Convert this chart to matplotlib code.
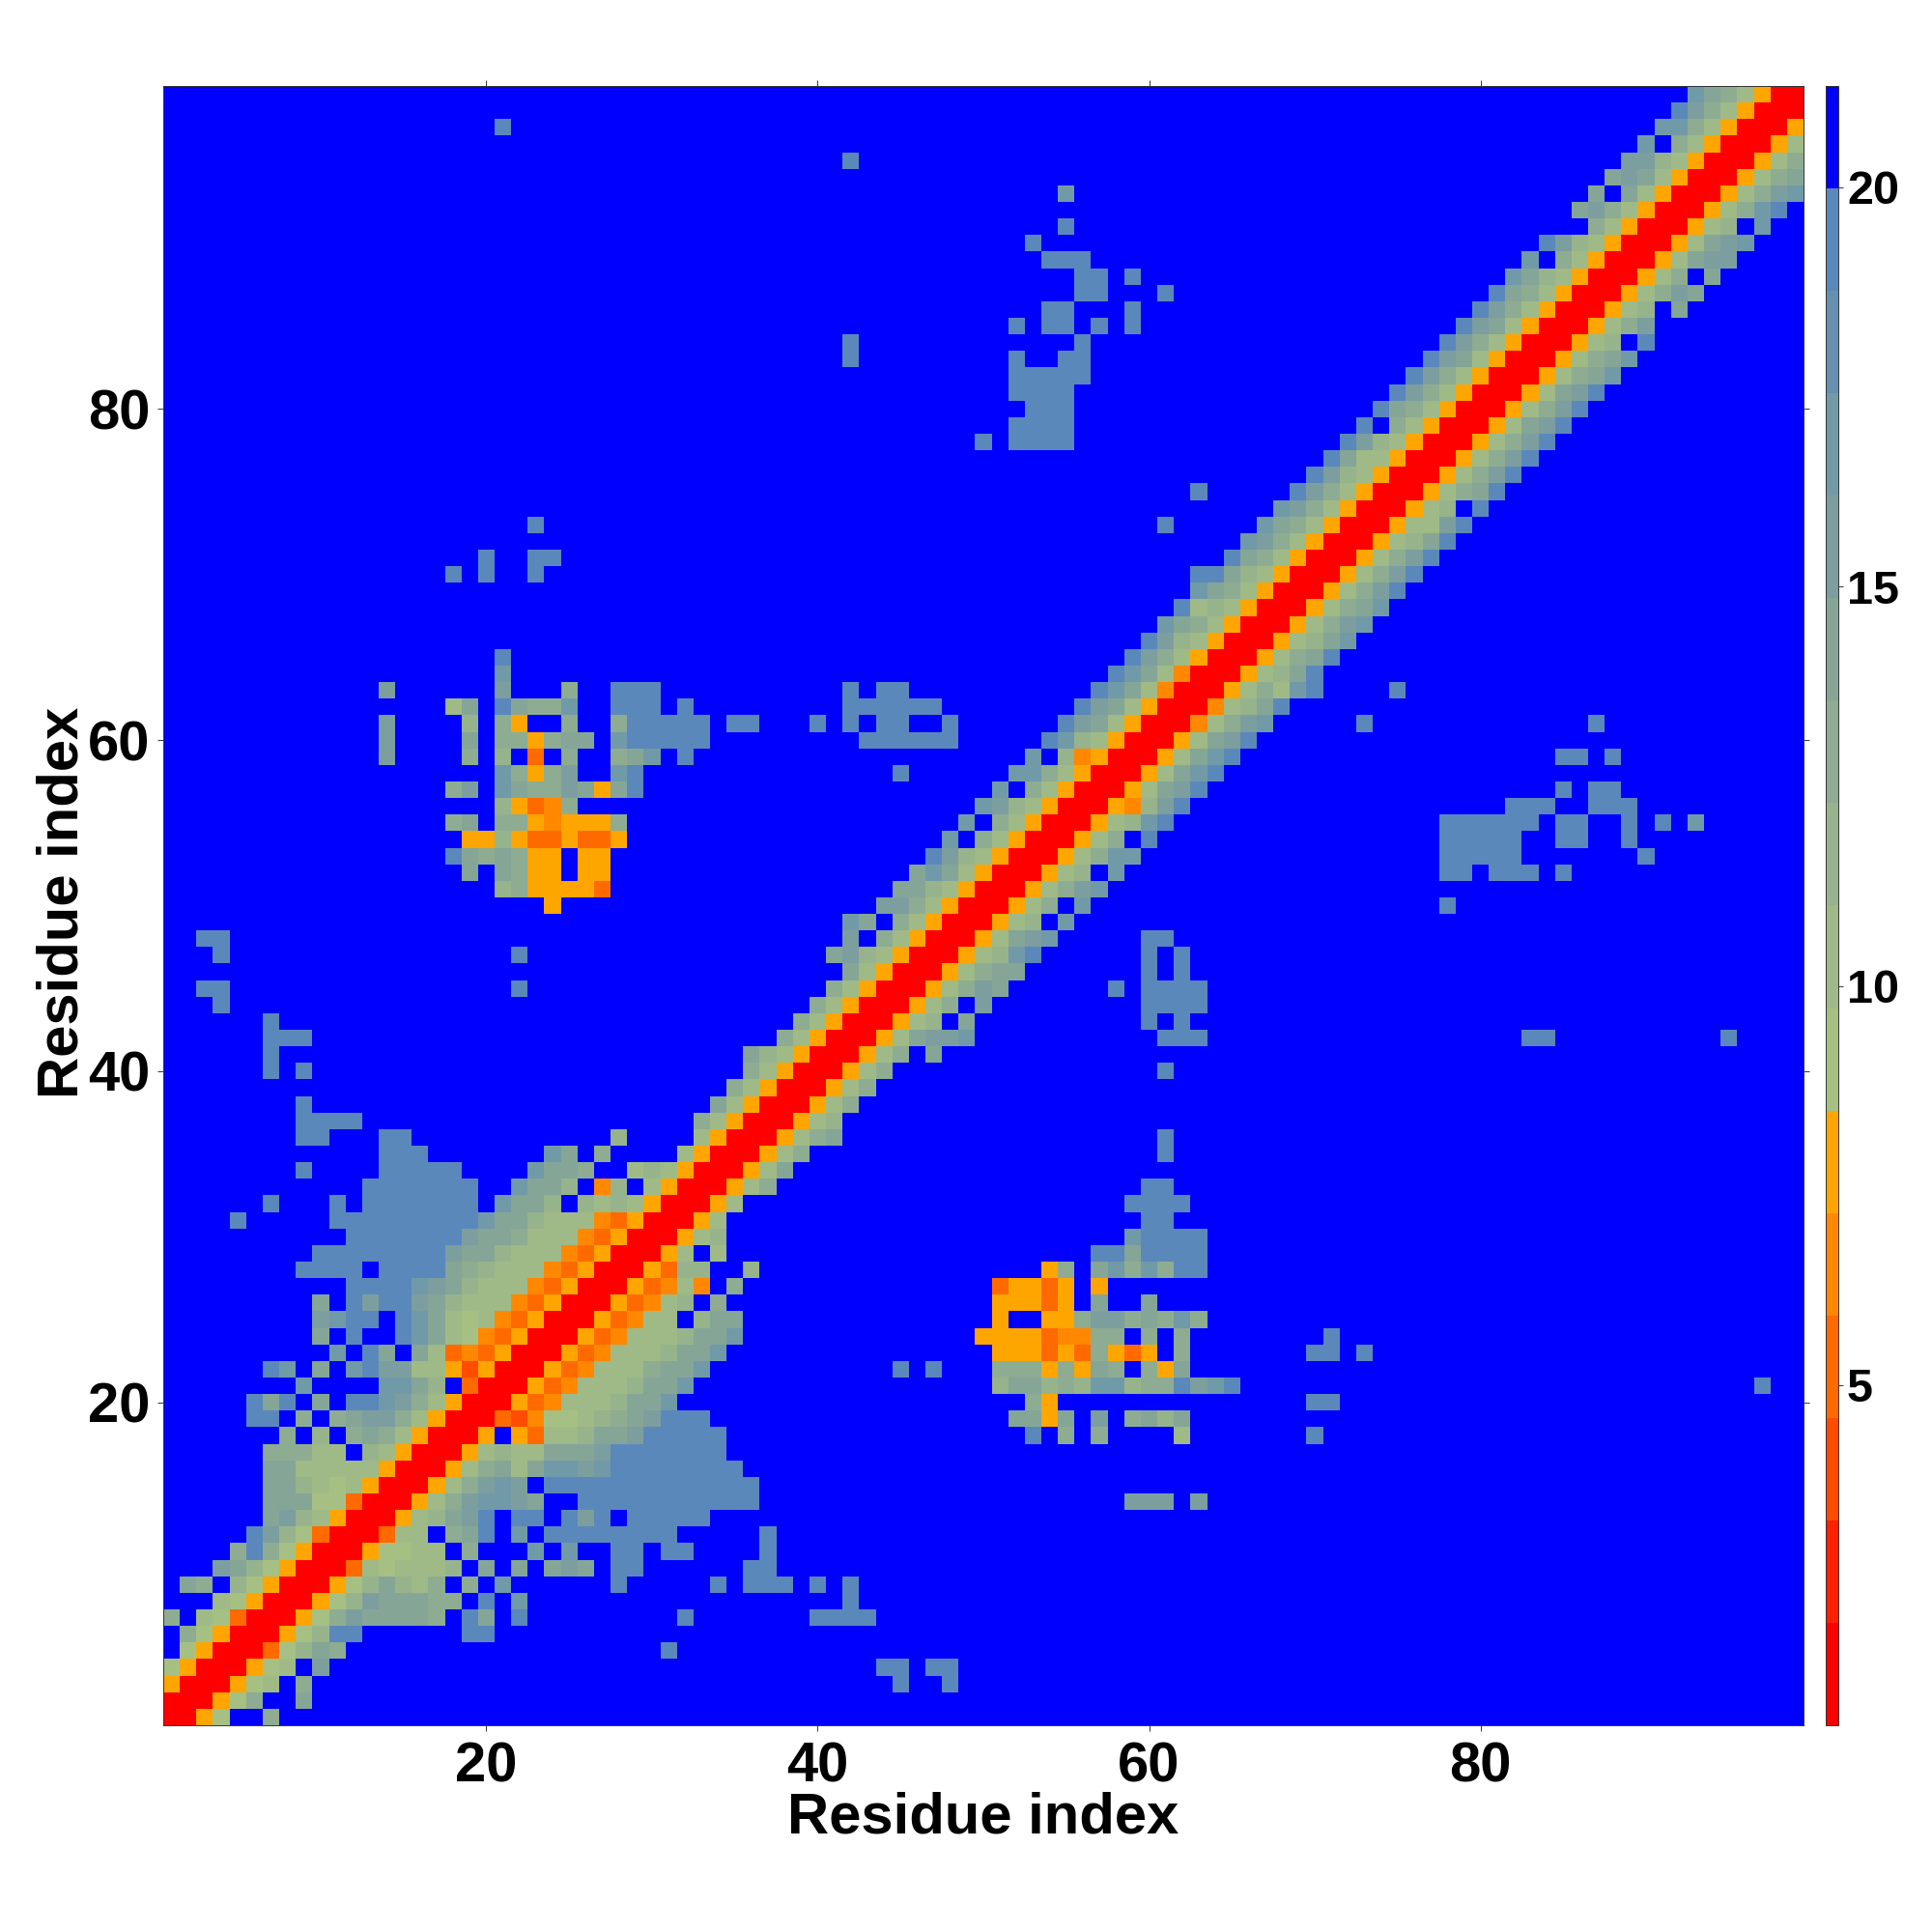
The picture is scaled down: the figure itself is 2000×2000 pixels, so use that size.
import matplotlib
matplotlib.use('Agg')
import matplotlib.pyplot as plt
import numpy as np
from matplotlib.colors import BoundaryNorm, ListedColormap

plt.rcParams['font.family'] = ['Liberation Sans', 'DejaVu Sans']
plt.rcParams['font.weight'] = 'bold'

N_RES = 99

# distance (angstrom) for each code used in the tables below
DIST_BY_CODE = {'0': 1.4, '1': 2.7, '2': 3.9, '3': 5.2, '4': 6.5, '5': 7.8,
                '6': 9.1, '7': 10.3, '8': 11.6, '9': 12.9, 'a': 14.2,
                'b': 15.5, 'c': 16.8, 'd': 19.3, '.': 20.7}

# row i, residues j = i, i+1, ... (matrix is symmetric)
BAND_ROWS = [
    "0056..9", "00569..a", "00567.9", "00567.b", "00368a9", "00568dd",
    "00569baaaa9.da", "00568baaa99.d", "00568a879.9.c",
    "003767778.a.a.aba.dd", "0056677.9...c.c..dd.dd",
    "00377.9ad.c.dddddddd", "00578abd.dd.dbd.ddddd",
    "00579bccba..ddddddddddd", "00579bcb.ddddddddddddd",
    "00579a7accbcdddddddd", "0057877aaabddddddd",
    "005.53778aabddddd", "0032466789abddd", "005347778aac",
    "005347778aac", "005347779aac", "005347778aac", "005347778aac",
    "0053477.8aa", "0053478.9", "0053474.9", "005388..8", "0057.7",
    "00578", "0057", "0057", "00579", "0057a", "00579", "00579a",
    "00578", "00579", "00579", "00579", "00579.a", "0057abbc",
    "00578.a", "00579.b", "00579ba", "00579aa", "00578cd", "0057abc",
    "00578.c", "00579.c", "00579bc", "00578.c", "00579cc", "00579.d",
    "00578cd", "00548bd", "0057abd", "0057acd", "0057acd", "0057abd",
    "00479bc", "00478ad", "005797cd", "00578ad", "00579ad", "00578ac",
    "00579bc", "00579ac", "00579bd", "00579bd", "00579bd", "00578ad",
    "00577bd", "00578.d", "00579ad", "00579bd", "00579bd", "00579bd",
    "0057abd", "00579bd", "0057abd", "00579ac", "00579ac", "00578.d",
    "00579b", "00578.a", "00579ba", "00579.a", "0057abb", "0057abc",
    "00578.c", "00579cd", "00579bc", "00579a", "00579", "0057", "005",
    "00", "0",
]

# detached contacts: (i, first j, codes)
PATCHES = [
    (3, 45, "d"), (3, 48, "d"), (4, 44, "dd"), (4, 47, "dd"), (5, 31, "d"),
    (6, 19, "dd"), (7, 22, "d"), (7, 32, "d"), (7, 40, "dddd"),
    (8, 22, "c"), (8, 42, "d"), (9, 28, "d"), (9, 34, "d"), (9, 36, "ddd"),
    (9, 40, "d"), (9, 42, "d"), (10, 36, "dd"), (11, 37, "d"), (12, 37, "d"),
    (14, 59, "bbb"), (14, 63, "b"),
    (18, 53, "d"), (18, 55, "9"), (18, 57, "9"), (18, 62, "7"), (18, 70, "d"),
    (19, 52, "aa5a"), (19, 57, "b"), (19, 59, "9a8a"),
    (20, 53, "95"), (20, 70, "dd"),
    (21, 51, "8aa898cc899dbcd"), (21, 97, "d"),
    (22, 45, "d"), (22, 47, "d"), (22, 51, "999595a9.95a"),
    (23, 51, "5553539535.9"), (23, 70, "dd"), (23, 73, "d"),
    (24, 50, "555534499.9.9"), (24, 71, "d"),
    (25, 51, "5..559bb9a9c9"), (26, 51, "55535.a..a"), (27, 51, "35535.5"),
    (28, 54, "59.ac9c9dd"), (29, 57, "ddadddd"), (30, 59, "cdddd"),
    (31, 60, "dd"), (32, 59, "dddd"), (33, 60, "dd"),
    (35, 61, "d"), (36, 61, "d"), (40, 61, "d"),
    (42, 61, "ddd"), (42, 83, "dd"), (42, 95, "d"),
    (43, 60, "d"), (43, 62, "d"), (44, 60, "dddd"),
    (45, 58, "d"), (45, 60, "dddd"), (46, 60, "d"), (46, 62, "d"),
    (47, 60, "d"), (47, 62, "d"), (48, 60, "dd"),
    (50, 78, "d"), (52, 78, "dd"), (52, 81, "ddd"), (52, 85, "d"),
    (53, 78, "ddddd"), (53, 90, "d"),
    (54, 78, "ddddd"), (54, 85, "dd"), (54, 89, "d"),
    (55, 78, "dddddd"), (55, 85, "dd"), (55, 89, "d"), (55, 91, "d"), (55, 93, "c"),
    (56, 82, "ddd"), (56, 87, "ddd"), (57, 85, "d"), (57, 87, "dd"),
    (59, 85, "dd"), (59, 88, "d"), (61, 73, "d"), (61, 87, "d"), (63, 75, "d"),
]

LEVEL_COLORS = ['#ff0000', '#ff2000', '#ff4c00', '#ff6a00', '#ff8800', '#ffa500',
                '#a6c084', '#9fba86', '#97b38c', '#8eac91', '#85a597', '#7c9e9f',
                '#719aa8', '#6590b0', '#5b88ba', '#0000ff']
LEVEL_MIN, LEVEL_MAX = 0.74, 21.27
TICKS = [20, 40, 60, 80]
CBAR_TICKS = [5, 10, 15, 20]


def build_matrix():
    m = np.full((N_RES, N_RES), DIST_BY_CODE['.'])
    for i, row in enumerate(BAND_ROWS):
        for k, c in enumerate(row):
            m[i, i + k] = m[i + k, i] = DIST_BY_CODE[c]
    for i, j0, codes in PATCHES:
        for k, c in enumerate(codes):
            m[i - 1, j0 - 1 + k] = m[j0 - 1 + k, i - 1] = DIST_BY_CODE[c]
    return m


matrix = build_matrix()
edges = np.arange(N_RES + 1) + 0.5

cmap = ListedColormap(LEVEL_COLORS)
bounds = np.linspace(LEVEL_MIN, LEVEL_MAX, len(LEVEL_COLORS) + 1)
norm = BoundaryNorm(bounds, cmap.N)

fig = plt.figure(figsize=(20, 20), dpi=100)
ax = fig.add_axes([0.0845, 0.107, 0.849, 0.8485])
mesh = ax.pcolormesh(edges, edges, matrix, cmap=cmap, norm=norm,
                     antialiased=False, linewidth=0)
ax.set_xlim(0.5, 99.5)
ax.set_ylim(0.5, 99.5)
ax.set_xticks(TICKS)
ax.set_yticks(TICKS)
ax.tick_params(top=True, right=True, length=4, width=0.7, color='#333333',
               labelsize=41.7, pad=8)
ax.tick_params(axis='y', pad=6)
for s in ax.spines.values():
    s.set_linewidth(0.7)
    s.set_color('#333333')

ax.set_xlabel('Residue index', fontsize=43, fontweight='bold', va='center')
ax.xaxis.set_label_coords(0.5, -0.0565)
ax.set_ylabel('Residue index', fontsize=43, fontweight='bold', va='center')
ax.yaxis.set_label_coords(-0.061, 0.502)

cax = fig.add_axes([0.945, 0.107, 0.0065, 0.8485])
cb = fig.colorbar(mesh, cax=cax, ticks=CBAR_TICKS, spacing='proportional',
                  drawedges=False)
cb.ax.minorticks_off()
cb.ax.tick_params(which='both', right=True, length=3.5, width=0.7,
                  color='#333333', labelsize=35, pad=3)
cb.ax.yaxis.set_ticks(CBAR_TICKS, minor=False)
cb.ax.yaxis.set_ticks([], minor=True)
cb.outline.set_linewidth(0.7)
cb.outline.set_edgecolor('#333333')
for t in cb.ax.get_yticklabels():
    t.set_fontweight('bold')

fig.savefig('out.png', dpi=100)
